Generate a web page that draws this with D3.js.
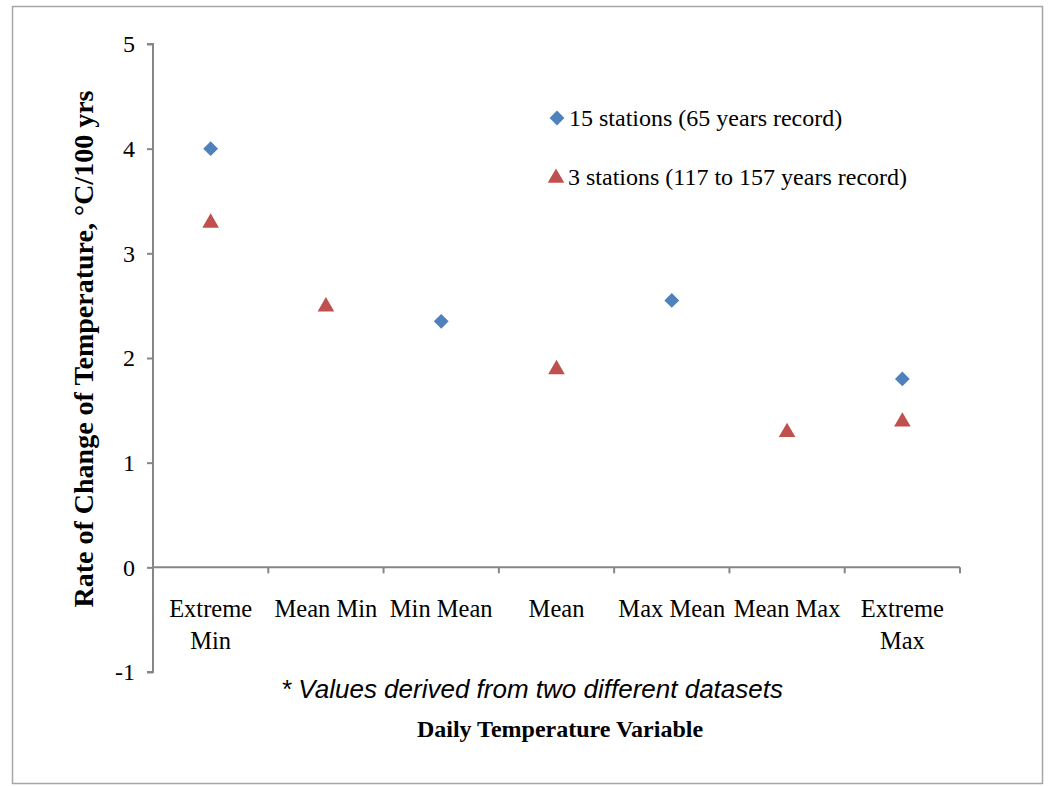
<!DOCTYPE html>
<html>
<head>
<meta charset="utf-8">
<script src="https://cdn.jsdelivr.net/npm/d3@7"></script>
<style>
  body { margin: 0; background: #fff; }
</style>
</head>
<body>
<div id="container"></div>
<script>
// Data
const categories = ["Extreme Min", "Mean Min", "Min Mean", "Mean", "Max Mean", "Mean Max", "Extreme Max"];
const categoryLines = [["Extreme", "Min"], ["Mean Min"], ["Min Mean"], ["Mean"], ["Max Mean"], ["Mean Max"], ["Extreme", "Max"]];
const stations15 = [4.0, null, 2.35, null, 2.55, null, 1.8];
const stations3 = [3.3, 2.5, null, 1.9, null, 1.3, 1.4];
const yTicks = [-1, 0, 1, 2, 3, 4, 5];
const seriesNames = ["15 stations (65 years record)", "3 stations (117 to 157 years record)"];

// Constants
const width = 1048;
const height = 786;
const plotLeft = 153, plotRight = 960, plotTop = 44, plotBottom = 672;
const blue = "#4F81BD";
const red = "#C0504D";
const axisColor = "#868686";
const serif = "'Liberation Serif', 'Times New Roman', serif";

const svg = d3.select("#container")
  .append("svg")
  .attr("width", width)
  .attr("height", height);

// outer frame
svg.append("rect")
  .attr("x", 12.5).attr("y", 6.5)
  .attr("width", 1030).attr("height", 777)
  .attr("fill", "#fff")
  .attr("stroke", "#a6a6a6")
  .attr("stroke-width", 1.5);

// Scales
const xScale = d3.scaleBand().domain(categories).range([plotLeft, plotRight]);
const yScale = d3.scaleLinear().domain([-1, 5]).range([plotBottom, plotTop]);

// Y axis
const yAxis = d3.axisLeft(yScale).tickValues(yTicks).tickSize(6).tickPadding(12).tickFormat((d) => String(d));
const gy = svg.append("g").attr("transform", `translate(${plotLeft},0)`).call(yAxis);
gy.select(".domain").attr("stroke", axisColor).attr("stroke-width", 2)
  .attr("d", `M-6,${yScale(5)}H0V${yScale(-1)}H-6`);
gy.selectAll(".tick line").attr("stroke", axisColor).attr("stroke-width", 2);
gy.selectAll(".tick text")
  .attr("font-family", serif).attr("font-size", 24).attr("fill", "#000");

// X axis at zero
const xAxis = d3.axisBottom(xScale).tickSize(0).tickFormat("");
const gx = svg.append("g").attr("transform", `translate(0,${yScale(0)})`).call(xAxis);
gx.select(".domain").attr("stroke", axisColor).attr("stroke-width", 2)
  .attr("d", `M${plotLeft},0H${plotRight}`);
gx.selectAll(".tick").remove();
// boundary ticks between categories
gx.selectAll("line.sep")
  .data(categories)
  .enter()
  .append("line")
  .attr("class", "sep")
  .attr("x1", (d) => xScale(d) + xScale.bandwidth())
  .attr("x2", (d) => xScale(d) + xScale.bandwidth())
  .attr("y1", 0).attr("y2", 6)
  .attr("stroke", axisColor).attr("stroke-width", 2);

// category labels
const labels = svg.append("g");
categories.forEach((c, i) => {
  const t = labels.append("text")
    .attr("x", xScale(c) + xScale.bandwidth() / 2)
    .attr("y", 617)
    .attr("text-anchor", "middle")
    .attr("font-family", serif)
    .attr("font-size", 24.5)
    .attr("fill", "#000");
  categoryLines[i].forEach((line, j) => {
    t.append("tspan")
      .attr("x", xScale(c) + xScale.bandwidth() / 2)
      .attr("dy", j === 0 ? 0 : 32)
      .text(line);
  });
});

// markers
const cx = (i) => xScale(categories[i]) + xScale.bandwidth() / 2;
const diamond = d3.symbol().type(d3.symbolSquare).size(110);
const triangle = d3.symbol().type(d3.symbolTriangle).size(120);

svg.append("g")
  .selectAll("path")
  .data(stations15.map((v, i) => ({ v, i })).filter((d) => d.v !== null))
  .enter()
  .append("path")
  .attr("d", diamond)
  .attr("transform", (d) => `translate(${cx(d.i)},${yScale(d.v)}) rotate(45)`)
  .attr("fill", blue);

svg.append("g")
  .selectAll("path")
  .data(stations3.map((v, i) => ({ v, i })).filter((d) => d.v !== null))
  .enter()
  .append("path")
  .attr("d", triangle)
  .attr("transform", (d) => `translate(${cx(d.i)},${yScale(d.v) + 1})`)
  .attr("fill", red);

// Legend
const legend = svg.append("g").attr("id", "legend");
legend.append("path").attr("d", diamond).attr("transform", "translate(557,118) rotate(45)").attr("fill", blue);
legend.append("path").attr("d", triangle).attr("transform", "translate(556,178)").attr("fill", red);
legend.selectAll("text")
  .data(seriesNames)
  .enter()
  .append("text")
  .attr("x", (d, i) => (i === 0 ? 569 : 568))
  .attr("y", (d, i) => (i === 0 ? 126 : 185))
  .attr("font-family", serif)
  .attr("font-size", 24)
  .attr("fill", "#000")
  .text((d) => d);

// Axis titles
svg.append("text")
  .attr("transform", `translate(93,349) rotate(-90)`)
  .attr("text-anchor", "middle")
  .attr("font-family", serif)
  .attr("font-weight", "bold")
  .attr("font-size", 28)
  .attr("fill", "#000")
  .text("Rate of Change of Temperature, \u00B0C/100 yrs");

svg.append("text")
  .attr("x", 532).attr("y", 698)
  .attr("text-anchor", "middle")
  .attr("font-family", "'Liberation Sans', Arial, sans-serif")
  .attr("font-style", "italic")
  .attr("font-size", 26)
  .attr("fill", "#000")
  .text("* Values derived from two different datasets");

svg.append("text")
  .attr("x", 560).attr("y", 737)
  .attr("text-anchor", "middle")
  .attr("font-family", serif)
  .attr("font-weight", "bold")
  .attr("font-size", 24)
  .attr("fill", "#000")
  .text("Daily Temperature Variable");
</script>
</body>
</html>
